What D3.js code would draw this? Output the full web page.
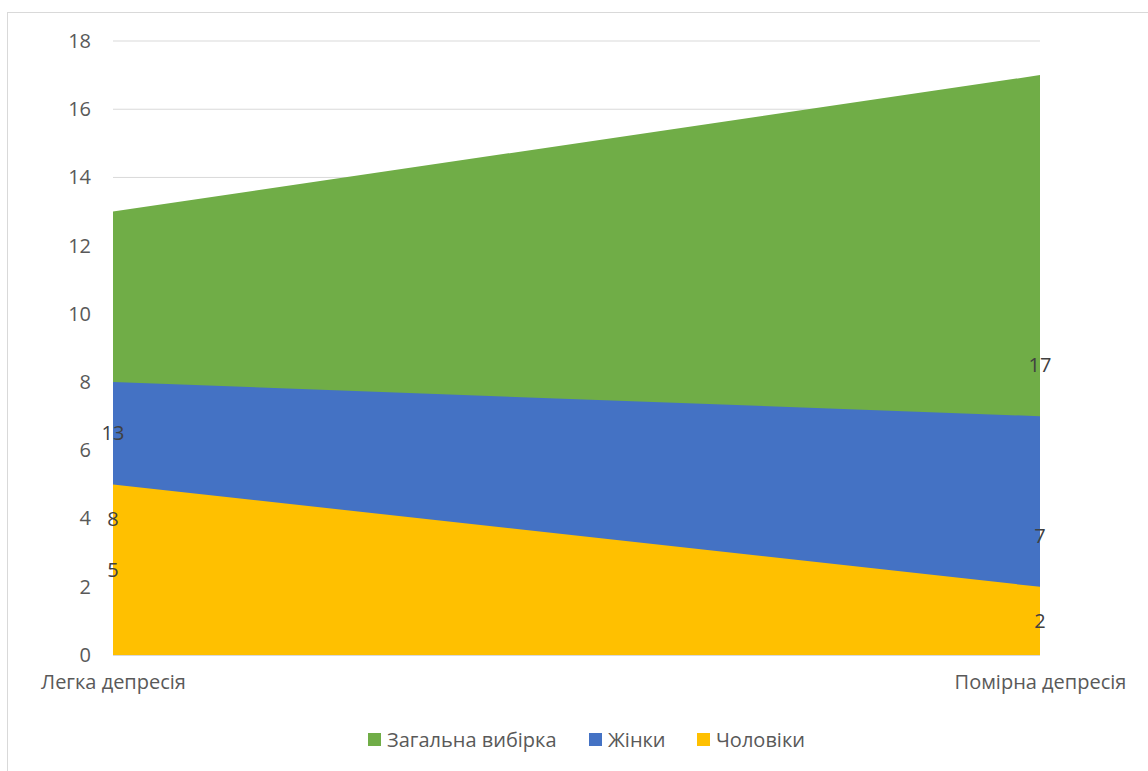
<!DOCTYPE html>
<html>
<head>
<meta charset="utf-8">
<script src="https://cdn.jsdelivr.net/npm/d3@7"></script>
<style>
  body { margin: 0; background: #fff; }
  svg { display: block; font-family: "Open Sans", "Noto Sans", sans-serif; }
</style>
</head>
<body>
<svg></svg>
<script>
    /* chart data */
    let categories = ["Легка депресія", "Помірна депресія"];
    let seriesNames = ["Загальна вибірка", "Жінки", "Чоловіки"];
    let totalValues = [13, 17];
    let womenValues = [8, 7];
    let menValues = [5, 2];
    let yTicks = [0, 2, 4, 6, 8, 10, 12, 14, 16, 18];
    let colors = ["#70AD47", "#4472C4", "#FFC000"];

    let width = 1148;
    let height = 771;
    let plotLeft = 113, plotRight = 1040, plotTop = 41, plotBottom = 655;
    let fontSize = 20;

    const svg = d3.select("svg").attr("width", width).attr("height", height);

    // outer chart border
    svg.append("rect").attr("x", 7.5).attr("y", 12.5)
        .attr("width", width + 20).attr("height", height + 20)
        .attr("fill", "none").attr("stroke", "#d9d9d9").attr("stroke-width", 1);

    let xScale = d3.scalePoint().domain(categories).range([plotLeft, plotRight]);
    let yScale = d3.scaleLinear().domain([0, 18]).range([plotBottom, plotTop]);

    // gridlines
    svg.append("g").selectAll("line").data(yTicks).enter().append("line")
        .attr("x1", plotLeft).attr("x2", plotRight)
        .attr("y1", d => yScale(d)).attr("y2", d => yScale(d))
        .attr("stroke", "#d9d9d9").attr("stroke-width", 1);

    let series = [
        { name: seriesNames[0], values: totalValues, color: colors[0] },
        { name: seriesNames[1], values: womenValues, color: colors[1] },
        { name: seriesNames[2], values: menValues, color: colors[2] }
    ];

    let area = d3.area()
        .x((d, i) => xScale(categories[i]))
        .y0(yScale(0))
        .y1(d => yScale(d));

    svg.append("g").selectAll("path").data(series).enter().append("path")
        .attr("d", s => area(s.values))
        .attr("fill", s => s.color);

    // axis line at 0
    svg.append("line").attr("x1", plotLeft).attr("x2", plotRight)
        .attr("y1", yScale(0) + 0.5).attr("y2", yScale(0) + 0.5)
        .attr("stroke", "#d9d9d9").attr("stroke-width", 1);

    // y axis labels
    let yAxis = d3.axisLeft(yScale).tickValues(yTicks).tickSize(0).tickPadding(0);
    let gy = svg.append("g").attr("transform", "translate(" + (plotLeft - 22) + ",0)").call(yAxis);
    gy.select(".domain").remove();
    gy.selectAll("text").attr("fill", "#595959").attr("font-size", fontSize)
        .attr("font-family", "'Open Sans', sans-serif");

    // x axis labels
    let xAxis = d3.axisBottom(xScale).tickSize(0).tickPadding(0);
    let gx = svg.append("g").attr("transform", "translate(0," + (plotBottom + 20) + ")").call(xAxis);
    gx.select(".domain").remove();
    gx.selectAll("text").attr("fill", "#595959").attr("font-size", fontSize)
        .attr("font-family", "'Open Sans', sans-serif");

    // data labels at mid height of each area
    series.forEach(s => {
        svg.append("g").selectAll("text").data(s.values).enter().append("text")
            .attr("x", (d, i) => xScale(categories[i]))
            .attr("y", d => yScale(d / 2))
            .attr("dy", "0.35em")
            .attr("text-anchor", "middle")
            .attr("fill", "#404040")
            .attr("font-size", fontSize)
            .text(d => d);
    });

    // legend
    let legendX = [368, 589, 697];
    let legend = svg.append("g").selectAll("g").data(series).enter().append("g")
        .attr("transform", (s, i) => "translate(" + legendX[i] + ",733)");
    legend.append("rect").attr("width", 13).attr("height", 13).attr("fill", s => s.color);
    legend.append("text").attr("x", 19).attr("y", 7).attr("dy", "0.35em")
        .attr("fill", "#595959").attr("font-size", fontSize)
        .text(s => s.name);
</script>
</body>
</html>
